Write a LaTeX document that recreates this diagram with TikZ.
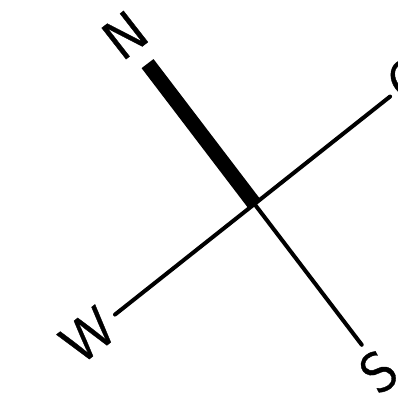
\documentclass[tikz,border=0pt]{standalone}
\usepackage{fontspec}
\newfontfamily\lblfont{Latin Modern Sans}[FakeBold=0.6]
\begin{document}
\begin{tikzpicture}[x=1pt,y=1pt,
  thinline/.style={line width=4pt, line cap=round},
  thickline/.style={line width=15pt},
  lbl/.style={inner sep=0pt, font=\lblfont\fontsize{57}{57}\selectfont, rotate=38}]
\useasboundingbox (-254.5,-194) rectangle (143.5,204);
\clip (-254.5,-194) rectangle (143.5,204);
\coordinate (c) at (0,0);
\coordinate (n) at (127.3:176.5);
\coordinate (s) at (307.3:177);
\coordinate (e) at (38.4:173);
\coordinate (w) at (218.4:178);
\draw[thinline] (w) -- (e);
\draw[thinline] (s) -- (c);
\draw[thickline] (c) -- (n);
\node[lbl] (ln) at (127.5:213) {N};
\node[lbl] (lw) at (218.2:212) {W};
\node[lbl] (ls) at (306.5:208.5) {S};
\node[lbl] (le) at (39:199) {O};
\end{tikzpicture}
\end{document}
